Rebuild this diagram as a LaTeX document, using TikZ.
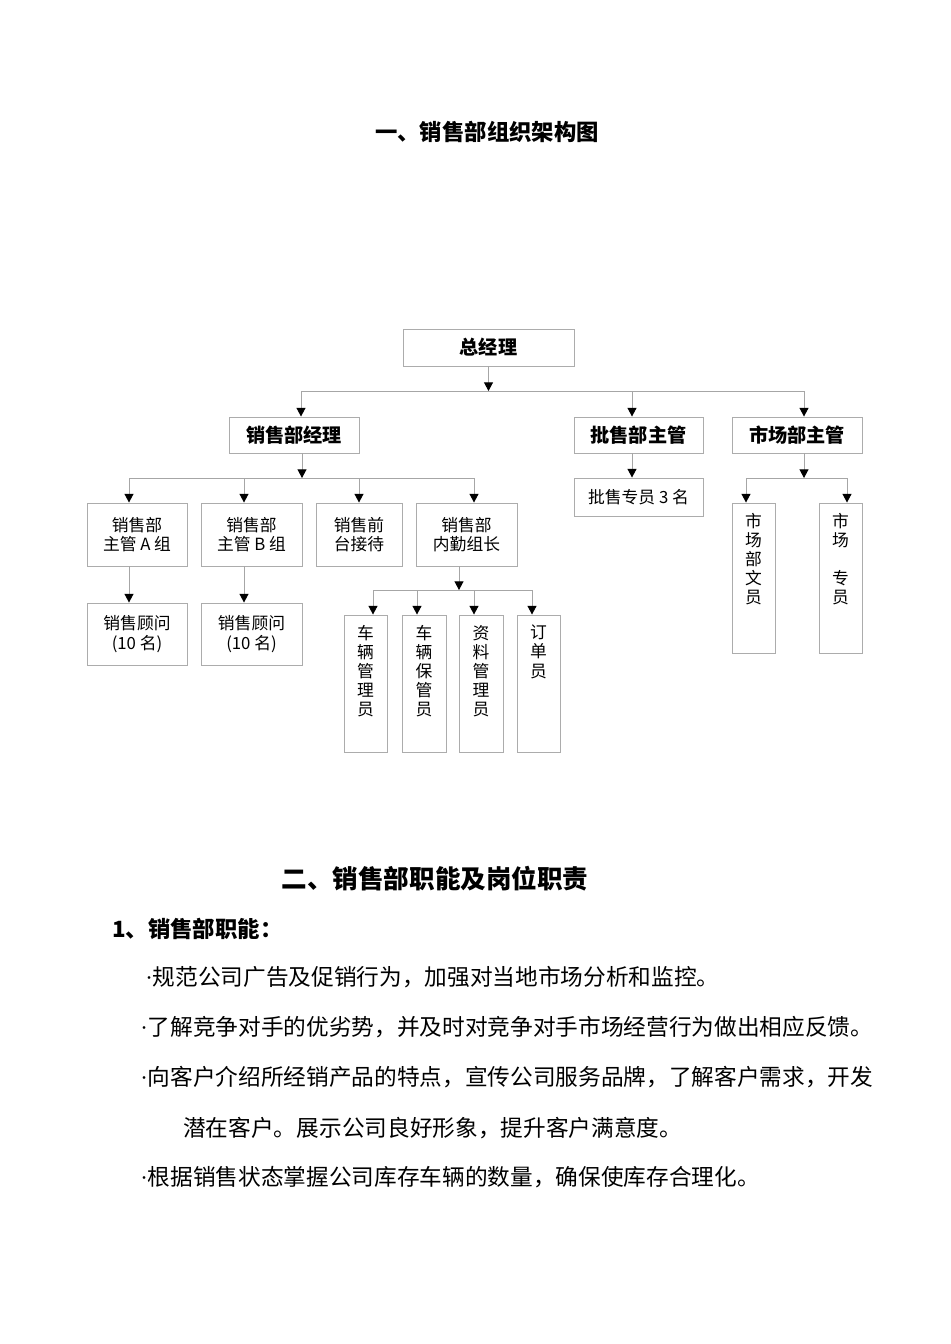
\documentclass[tikz,border=0pt]{standalone}
\usepackage{fontspec}
\newfontfamily\cjk{Noto Sans CJK SC}
\newfontfamily\latin{Liberation Serif}
\usetikzlibrary{arrows.meta}
\newdimen\pxl
\pxl=0.6264pt
\tikzset{
  orgbox/.style={draw=gray!65, line width=0.6pt, align=center, inner sep=0pt, fill=white,
    font=\cjk\fontsize{10.5}{12}\selectfont},
  orghead/.style={orgbox, font=\cjk\bfseries\fontsize{12}{14}\selectfont},
  orgline/.style={draw=gray!70, line width=0.6pt},
  orgarrow/.style={orgline, -{Triangle[length=5.4pt, width=5.6pt, color=black]}},
  doctitle/.style={inner sep=0pt, font=\cjk\bfseries\fontsize{14}{16}\selectfont},
  doctext/.style={anchor=west, inner sep=0pt, font=\cjk\fontsize{14.2}{16}\selectfont}
}

\begin{document}
\begin{tikzpicture}[x=0.6264pt, y=-0.6264pt]
  \useasboundingbox[fill=white] (0,0) rectangle (950,1344);
  \node[doctitle] (t1) at (487,132) {一、销售部组织架构图};

  % chart boxes
  \node[orghead, minimum width=171*\pxl, minimum height=37*\pxl] (gm) at (488.5,347.5) {总经理};
  \node[orghead, minimum width=130*\pxl, minimum height=36*\pxl] (sm) at (294,435) {销售部经理};
  \node[orghead, minimum width=129*\pxl, minimum height=36*\pxl] (pm) at (638.5,435) {批售部主管};
  \node[orghead, minimum width=130*\pxl, minimum height=36*\pxl] (mm) at (797,435) {市场部主管};
  \node[orgbox, minimum width=100*\pxl, minimum height=63*\pxl] (ga) at (137,534.5) {销售部\\主管 A 组};
  \node[orgbox, minimum width=101*\pxl, minimum height=63*\pxl] (gb) at (251.5,534.5) {销售部\\主管 B 组};
  \node[orgbox, minimum width=86*\pxl, minimum height=63*\pxl] (qt) at (359,534.5) {销售前\\台接待};
  \node[orgbox, minimum width=101*\pxl, minimum height=63*\pxl] (nq) at (466.5,534.5) {销售部\\内勤组长};
  \node[orgbox, minimum width=100*\pxl, minimum height=62*\pxl] (ca) at (137,634) {销售顾问\\(10 名)};
  \node[orgbox, minimum width=101*\pxl, minimum height=62*\pxl] (cb) at (251.5,634) {销售顾问\\(10 名)};
  \node[orgbox, minimum width=129*\pxl, minimum height=38*\pxl] (pf) at (638.5,497) {批售专员 3 名};
  \node[orgbox, minimum width=43*\pxl] (v1) at (365.5,683.5)
    {\parbox[c][137\pxl][t]{1.2em}{\centering\vspace*{10\pxl}车\\辆\\管\\理\\员}};
  \node[orgbox, minimum width=44*\pxl] (v2) at (424,683.5)
    {\parbox[c][137\pxl][t]{1.2em}{\centering\vspace*{10\pxl}车\\辆\\保\\管\\员}};
  \node[orgbox, minimum width=44*\pxl] (v3) at (481,683.5)
    {\parbox[c][137\pxl][t]{1.2em}{\centering\vspace*{10\pxl}资\\料\\管\\理\\员}};
  \node[orgbox, minimum width=43*\pxl] (v4) at (538.5,683.5)
    {\parbox[c][137\pxl][t]{1.2em}{\centering\vspace*{10\pxl}订\\单\\员}};
  \node[orgbox, minimum width=43*\pxl] (mw) at (753.5,578)
    {\parbox[c][150\pxl][t]{1.2em}{\centering\vspace*{10\pxl}市\\场\\部\\文\\员}};
  \node[orgbox, minimum width=43*\pxl] (mz) at (840.5,578)
    {\parbox[c][150\pxl][t]{1.2em}{\centering\vspace*{10\pxl}市\\场\\\mbox{}\\专\\员}};

  % junctions
  \coordinate (b0) at (488.5,391);
  \coordinate (ba) at (301,391);
  \coordinate (bb) at (632,391);
  \coordinate (bc) at (804,391);
  \coordinate (s0) at (302,478);
  \coordinate (s1) at (129,478);
  \coordinate (s2) at (244,478);
  \coordinate (s3) at (359,478);
  \coordinate (s4) at (474,478);
  \coordinate (n0) at (459,590);
  \coordinate (n1) at (373,590);
  \coordinate (n2) at (417,590);
  \coordinate (n3) at (474,590);
  \coordinate (n4) at (532,590);
  \coordinate (m0) at (804,478);
  \coordinate (m1) at (746,478);
  \coordinate (m2) at (847,478);

  % connectors
  \draw[orgarrow] (gm.south) -- (b0);
  \draw[orgline] (ba) -- (bc);
  \draw[orgarrow] (ba) -- (ba |- sm.north);
  \draw[orgarrow] (bb) -- (bb |- pm.north);
  \draw[orgarrow] (bc) -- (bc |- mm.north);
  \draw[orgarrow] (s0 |- sm.south) -- (s0);
  \draw[orgline] (s1) -- (s4);
  \draw[orgarrow] (s1) -- (s1 |- ga.north);
  \draw[orgarrow] (s2) -- (s2 |- gb.north);
  \draw[orgarrow] (s3) -- (s3 |- qt.north);
  \draw[orgarrow] (s4) -- (s4 |- nq.north);
  \draw[orgarrow] (s1 |- ga.south) -- (s1 |- ca.north);
  \draw[orgarrow] (s2 |- gb.south) -- (s2 |- cb.north);
  \draw[orgarrow] (n0 |- nq.south) -- (n0);
  \draw[orgline] (n1) -- (n4);
  \draw[orgarrow] (n1) -- (n1 |- v1.north);
  \draw[orgarrow] (n2) -- (n2 |- v2.north);
  \draw[orgarrow] (n3) -- (n3 |- v3.north);
  \draw[orgarrow] (n4) -- (n4 |- v4.north);
  \draw[orgarrow] (bb |- pm.south) -- (bb |- pf.north);
  \draw[orgarrow] (m0 |- mm.south) -- (m0);
  \draw[orgline] (m1) -- (m2);
  \draw[orgarrow] (m1) -- (m1 |- mw.north);
  \draw[orgarrow] (m2) -- (m2 |- mz.north);

  % text section
  \node[doctitle, font=\cjk\bfseries\fontsize{16}{18}\selectfont] (t2) at (435,879) {二、销售部职能及岗位职责};
  \node[doctitle, anchor=west] (h1) at (112,929) {1、销售部职能：};
  \node[doctext] (p1) at (145,977) {{\latin ·}规范公司广告及促销行为，加强对当地市场分析和监控。};
  \node[doctext] (p2) at (140,1027) {{\latin ·}了解竞争对手的优劣势，并及时对竞争对手市场经营行为做出相应反馈。};
  \node[doctext] (p3) at (140,1077) {{\latin ·}向客户介绍所经销产品的特点，宣传公司服务品牌，了解客户需求，开发};
  \node[doctext] (p4) at (183,1128) {潜在客户。展示公司良好形象，提升客户满意度。};
  \node[doctext] (p5) at (140,1177) {{\latin ·}根据销售状态掌握公司库存车辆的数量，确保使库存合理化。};
\end{tikzpicture}
\end{document}
